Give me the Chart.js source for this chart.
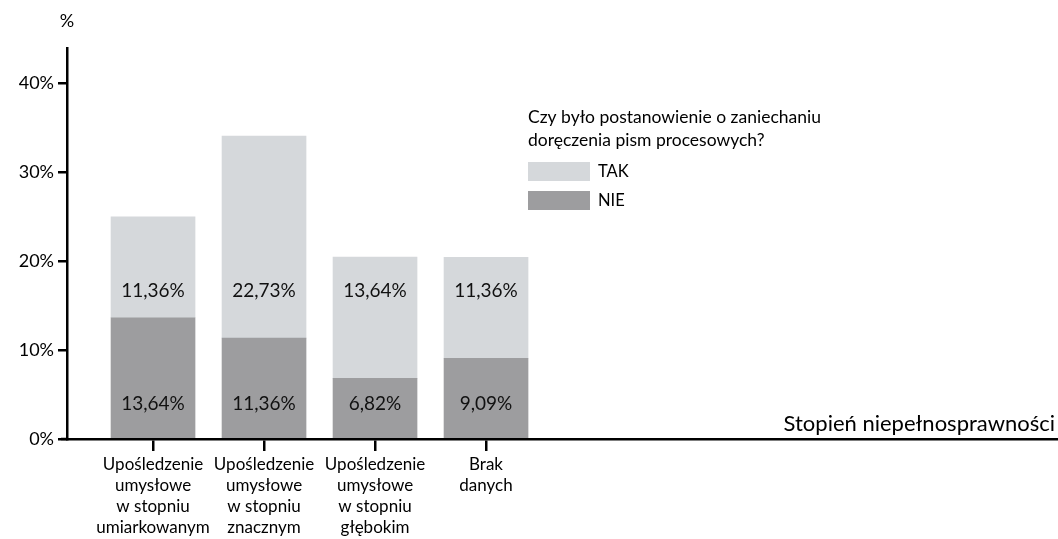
<!DOCTYPE html>
<html>
<head>
<meta charset="utf-8">
<script src="https://cdn.jsdelivr.net/npm/chart.js@4.4.0/dist/chart.umd.min.js"></script>
<style>
  html, body { margin: 0; background: #fff; }
  #wrap { width: 1058px; height: 539px; }
</style>
</head>
<body>
<div id="wrap"><canvas id="chart"></canvas></div>
<script>
const categories = [
  ['Upośledzenie', 'umysłowe', 'w stopniu', 'umiarkowanym'],
  ['Upośledzenie', 'umysłowe', 'w stopniu', 'znacznym'],
  ['Upośledzenie', 'umysłowe', 'w stopniu', 'głębokim'],
  ['Brak', 'danych']
];
const nieValues = [13.64, 11.36, 6.82, 9.09];
const takValues = [11.36, 22.73, 13.64, 11.36];
const yTicks = [0, 10, 20, 30, 40];
const legendTitle = ['Czy było postanowienie o zaniechaniu', 'doręczenia pism procesowych?'];
const xTitle = 'Stopień niepełnosprawności';
const yUnit = '%';

const FONT = 'Lato, "Noto Sans", sans-serif';
Chart.defaults.color = '#000';
Chart.defaults.font.family = FONT;

const fmt = v => v.toFixed(2).replace('.', ',') + '%';

// value labels, legend and axis captions drawn on top of the chart
const extras = {
  id: 'extras',
  afterDatasetsDraw(chart, args, opts) {
    const ctx = chart.ctx;
    const y = chart.scales.y;
    ctx.save();
    ctx.fillStyle = '#111';
    ctx.font = '19px ' + FONT;
    ctx.textAlign = 'center';
    ctx.textBaseline = 'middle';
    chart.data.datasets.forEach((ds, di) => {
      chart.getDatasetMeta(di).data.forEach((bar, i) => {
        ctx.fillText(fmt(ds.data[i].y), bar.x, y.getPixelForValue(opts.labelLevels[di]));
      });
    });
    ctx.restore();
  },
  afterDraw(chart, args, opts) {
    const ctx = chart.ctx;
    const area = chart.chartArea;
    ctx.save();

    // x axis line runs a few pixels past the y axis
    ctx.strokeStyle = '#000';
    ctx.lineWidth = 2.5;
    ctx.beginPath();
    ctx.moveTo(area.left - 6, area.bottom);
    ctx.lineTo(area.left, area.bottom);
    ctx.stroke();

    ctx.fillStyle = '#000';
    ctx.textBaseline = 'middle';

    // unit above the y axis
    ctx.font = '18px ' + FONT;
    ctx.textAlign = 'center';
    ctx.fillText(yUnit, area.left, 21);

    // x axis caption, right aligned above the axis line
    ctx.font = '22px ' + FONT;
    ctx.textAlign = 'right';
    ctx.fillText(xTitle, chart.width - 3, area.bottom - 15);

    // legend
    const lx = opts.legendX, ly = opts.legendY;
    ctx.font = '17.5px ' + FONT;
    ctx.textAlign = 'left';
    legendTitle.forEach((line, i) => ctx.fillText(line, lx, ly + i * 23));
    ctx.font = '16.5px ' + FONT;
    const items = chart.data.datasets.slice().reverse();
    items.forEach((ds, i) => {
      const top = ly + 45 + i * 29;
      ctx.fillStyle = ds.backgroundColor;
      ctx.fillRect(lx, top, 62, 19);
      ctx.fillStyle = '#000';
      ctx.fillText(ds.label, lx + 70, top + 10);
    });
    ctx.restore();
  }
};

new Chart(document.getElementById('chart'), {
  type: 'bar',
  data: {
    datasets: [{
      label: 'NIE',
      data: nieValues.map((v, i) => ({ x: i, y: v })),
      backgroundColor: '#9d9d9f'
    }, {
      label: 'TAK',
      data: takValues.map((v, i) => ({ x: i, y: v })),
      backgroundColor: '#d5d8db'
    }]
  },
  options: {
    responsive: true,
    maintainAspectRatio: false,
    animation: false,
    layout: { padding: { top: 48, left: 0, right: 0, bottom: 0 } },
    datasets: { bar: { barThickness: 84, borderWidth: 0 } },
    plugins: {
      legend: { display: false },
      tooltip: { enabled: false },
      extras: { labelLevels: [4, 16.7], legendX: 528, legendY: 117 }
    },
    scales: {
      x: {
        type: 'linear',
        stacked: true,
        offset: false,
        min: -0.775,
        max: 8.153,
        afterBuildTicks: s => { s.ticks = categories.map((c, i) => ({ value: i })); },
        afterFit: s => { s.height = 100; },
        ticks: {
          autoSkip: false,
          maxRotation: 0,
          padding: 3,
          font: { size: 17, lineHeight: 1.24 },
          callback: v => categories[v]
        },
        grid: { offset: false, drawOnChartArea: false, drawTicks: true, tickLength: 12, color: '#000', lineWidth: 2.5 },
        border: { display: true, color: '#000', width: 2.5 }
      },
      y: {
        stacked: true,
        min: 0,
        max: 44,
        afterBuildTicks: s => { s.ticks = yTicks.map(v => ({ value: v })); },
        afterFit: s => { s.width = 67; },
        ticks: {
          padding: 4,
          font: { size: 18 },
          callback: v => v + '%'
        },
        grid: { drawOnChartArea: false, drawTicks: true, tickLength: 9, color: '#000', lineWidth: 2.5 },
        border: { display: true, color: '#000', width: 2.5 }
      }
    }
  },
  plugins: [extras]
});
</script>
</body>
</html>
